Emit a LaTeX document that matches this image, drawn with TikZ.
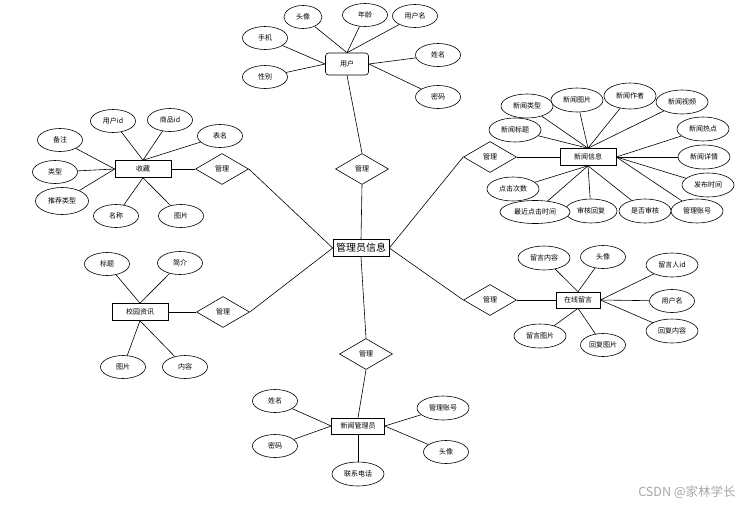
\documentclass[tikz,border=0pt]{standalone}
\usepackage{fontspec}
\newfontfamily\cjk{Noto Sans CJK SC}
\usetikzlibrary{shapes.geometric,positioning}

\begin{document}
\begin{tikzpicture}[x=1pt, y=-1pt, line width=0.6pt,
        attr/.style={ellipse, draw, fill=white, minimum width=45pt, minimum height=23pt, inner sep=1pt, font=\cjk\fontsize{7}{8}\selectfont},
        wide/.style={minimum width=52pt, minimum height=24pt},
        entity/.style={rectangle, draw, fill=white, minimum width=56pt, minimum height=17pt, inner sep=1pt, font=\cjk\fontsize{7}{8}\selectfont},
        rel/.style={diamond, draw, fill=white, minimum width=53pt, minimum height=31pt, inner sep=0pt, font=\cjk\fontsize{7}{8}\selectfont}]

        \useasboundingbox (0,0) rectangle (751,506);

        % Admin
        \node[entity, font=\cjk\fontsize{10}{12}\selectfont] (admin) at (361,248) {管理员信息};

        % User
        \node[entity, rounded corners=3pt, minimum width=43pt, minimum height=22pt] (user) at (347,64) {用户};
        \node[attr, minimum width=38pt] (u-head) at (303,17) {头像};
        \node[attr] (u-age) at (365,15) {年龄};
        \node[attr] (u-uname) at (415,16) {用户名};
        \node[attr] (u-phone) at (265,38) {手机};
        \node[attr] (u-sex) at (265,77) {性别};
        \node[attr] (u-name) at (438,55) {姓名};
        \node[attr] (u-pw) at (438,97) {密码};
        \node[rel] (r-user) at (362,169) {管理};

        \draw (user.north) -- (u-head);
        \draw (user.north) -- (u-age);
        \draw (user.north) -- (u-uname);
        \draw (user.west) -- (u-phone);
        \draw (user.west) -- (u-sex);
        \draw (user.east) -- (u-name);
        \draw (user.east) -- (u-pw);
        \draw (user.south) -- (r-user.north);
        \draw (r-user.south) -- (admin.north);

        % Favourites
        \node[entity] (fav) at (143,169) {收藏};
        \node[attr] (f-uid) at (113,121) {用户id};
        \node[attr] (f-gid) at (170,120) {商品id};
        \node[attr] (f-note) at (60,140) {备注};
        \node[attr] (f-table) at (220,136) {表名};
        \node[attr] (f-type) at (55,172) {类型};
        \node[attr, minimum width=53pt, minimum height=27pt] (f-rec) at (62,201) {推荐类型};
        \node[attr] (f-name) at (116,216) {名称};
        \node[attr] (f-pic) at (181,216) {图片};
        \node[rel] (r-fav) at (222,169) {管理};

        \draw (fav.north) -- (f-uid);
        \draw (fav.north) -- (f-gid);
        \draw (fav.north) -- (f-table);
        \draw (fav.west) -- (f-note);
        \draw (fav.west) -- (f-type);
        \draw (fav.west) -- (f-rec);
        \draw (fav.south) -- (f-name);
        \draw (fav.south) -- (f-pic);
        \draw (fav.east) -- (r-fav.west);
        \draw (r-fav.east) -- (admin.west);

        % News
        \node[entity] (news) at (588,157) {新闻信息};
        \node[attr, wide] (n-type) at (527,106) {新闻类型};
        \node[attr, wide] (n-pic) at (577,100) {新闻图片};
        \node[attr, wide, minimum height=26pt] (n-author) at (630,96) {新闻作者};
        \node[attr, wide] (n-video) at (682,102) {新闻视频};
        \node[attr, wide] (n-title) at (515,130) {新闻标题};
        \node[attr, wide] (n-hot) at (703,129) {新闻热点};
        \node[attr, wide] (n-detail) at (704,157) {新闻详情};
        \node[attr, wide] (n-time) at (708,185) {发布时间};
        \node[attr, wide] (n-acc) at (697,211) {管理账号};
        \node[attr, wide] (n-check) at (645,211) {是否审核};
        \node[attr, wide] (n-reply) at (591,211) {审核回复};
        \node[attr, minimum width=70pt] (n-last) at (535,212) {最近点击时间};
        \node[attr, wide] (n-click) at (513,189) {点击次数};
        \node[rel] (r-news) at (490,157) {管理};

        \draw (news.north) -- (n-type);
        \draw (news.north) -- (n-pic);
        \draw (news.north) -- (n-author);
        \draw (news.north) -- (n-video);
        \draw (news.north) -- (n-title);
        \draw (news.east) -- (n-hot);
        \draw (news.east) -- (n-detail);
        \draw (news.east) -- (n-time);
        \draw (news.east) -- (n-acc);
        \draw (news.south) -- (n-check);
        \draw (news.south) -- (n-reply);
        \draw (news.south) -- (n-last);
        \draw (news.south) -- (n-click);
        \draw (news.west) -- (r-news.east);
        \draw (r-news.west) -- (admin.east);

        % Messages
        \node[entity, minimum width=44pt, minimum height=16pt] (msg) at (578,300) {在线留言};
        \node[attr, wide] (m-text) at (544,258) {留言内容};
        \node[attr] (m-head) at (603,257) {头像};
        \node[attr, wide] (m-uid) at (672,265) {留言人id};
        \node[attr] (m-uname) at (672,301) {用户名};
        \node[attr, wide] (m-reply) at (672,331) {回复内容};
        \node[attr, wide] (m-pic) at (540,336) {留言图片};
        \node[attr] (m-rpic) at (603,345) {回复图片};
        \node[rel] (r-msg) at (490,300) {管理};

        \draw (msg.north) -- (m-text);
        \draw (msg.north) -- (m-head);
        \draw (msg.east) -- (m-uid);
        \draw (msg.east) -- (m-uname);
        \draw (msg.east) -- (m-reply);
        \draw (msg.south) -- (m-pic);
        \draw (msg.south) -- (m-rpic);
        \draw (msg.west) -- (r-msg.east);
        \draw (r-msg.west) -- (admin.east);

        % Campus news
        \node[entity] (campus) at (140,312) {校园资讯};
        \node[attr] (c-title) at (107,264) {标题};
        \node[attr] (c-intro) at (180,263) {简介};
        \node[attr] (c-pic) at (123,367) {图片};
        \node[attr] (c-text) at (185,367) {内容};
        \node[rel] (r-campus) at (223,312) {管理};

        \draw (campus.north) -- (c-title);
        \draw (campus.north) -- (c-intro);
        \draw (campus.south) -- (c-pic);
        \draw (campus.south) -- (c-text);
        \draw (campus.east) -- (r-campus.west);
        \draw (r-campus.east) -- (admin.west);

        % Editor
        \node[entity, minimum width=53pt, minimum height=16pt] (editor) at (358,426) {新闻管理员};
        \node[attr] (e-name) at (275,401) {姓名};
        \node[attr] (e-pw) at (275,446) {密码};
        \node[attr, wide] (e-tel) at (358,474) {联系电话};
        \node[attr, wide] (e-acc) at (443,408) {管理账号};
        \node[attr] (e-head) at (446,452) {头像};
        \node[rel] (r-editor) at (366,354) {管理};

        \draw (editor.west) -- (e-name);
        \draw (editor.west) -- (e-pw);
        \draw (editor.south) -- (e-tel);
        \draw (editor.east) -- (e-acc);
        \draw (editor.east) -- (e-head);
        \draw (editor.north) -- (r-editor.south);
        \draw (r-editor.north) -- (admin.south);

        % Watermark
        \node[font=\cjk\fontsize{12.5}{14}\selectfont, text=black!35, inner sep=0pt] (mark) at (687,492) {CSDN @家林学长};

\end{tikzpicture}
\end{document}
